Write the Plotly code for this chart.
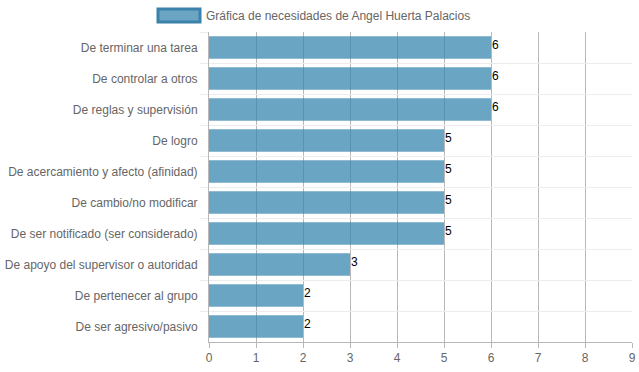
import plotly.graph_objects as go

categories = [
    "De terminar una tarea",
    "De controlar a otros",
    "De reglas y supervisión",
    "De logro",
    "De acercamiento y afecto (afinidad)",
    "De cambio/no modificar",
    "De ser notificado (ser considerado)",
    "De apoyo del supervisor o autoridad",
    "De pertenecer al grupo",
    "De ser agresivo/pasivo",
]
values = [6, 6, 6, 5, 5, 5, 5, 3, 2, 2]
series_name = "Gráfica de necesidades de Angel Huerta Palacios"
x_ticks = [0, 1, 2, 3, 4, 5, 6, 7, 8, 9]

FONT = "Liberation Sans, Arial, Helvetica, sans-serif"
BAR_FILL = "rgba(58,135,176,0.75)"
BAR_LINE = "rgb(58,130,170)"

fig = go.Figure()
fig.add_trace(go.Bar(
    x=values, y=categories, orientation="h", name=series_name,
    marker=dict(color=BAR_FILL, line=dict(width=0)),
    showlegend=False, hoverinfo="x+y", cliponaxis=False,
))

for v, c in zip(values, categories):
    fig.add_annotation(x=v, y=c, text=str(v), showarrow=False,
                       xanchor="left", yanchor="middle", xshift=-1, yshift=3,
                       font=dict(family=FONT, size=12, color="#000"))

# legend drawn manually (wide box like the original)
fig.add_shape(type="rect", xref="paper", yref="paper",
              x0=(158 - 209) / 423, x1=(200 - 209) / 423,
              y0=1 + (32 - 22) / 310, y1=1 + (32 - 9) / 310,
              fillcolor=BAR_FILL, line=dict(color=BAR_LINE, width=3))
fig.add_annotation(xref="paper", yref="paper", x=(204 - 209) / 423, y=1 + (32 - 15.5) / 310,
                   text=series_name, showarrow=False, xanchor="left", yanchor="middle",
                   font=dict(family=FONT, size=12, color="#666"))

fig.update_layout(
    width=639, height=372,
    margin=dict(l=209, r=7, t=32, b=30, autoexpand=False),
    paper_bgcolor="white", plot_bgcolor="white",
    bargap=0.27,
    font=dict(family=FONT, size=12, color="#666"),
    xaxis=dict(range=[0, 9], tickvals=x_ticks, showgrid=True, gridcolor="#b8b8b8",
               gridwidth=1, zeroline=False, showline=True, linecolor="#b8b8b8",
               ticks="outside", ticklen=5, tickcolor="#b8b8b8", automargin=False,
               tickfont=dict(family=FONT, size=12, color="#666"), fixedrange=True),
    yaxis=dict(autorange="reversed", type="category", tickson="boundaries",
               showgrid=True, gridcolor="#ececec", gridwidth=1,
               showline=True, linecolor="#b8b8b8", automargin=False,
               ticks="outside", ticklen=8, tickcolor="#ececec", ticklabelstandoff=8,
               tickfont=dict(family=FONT, size=12, color="#666"), fixedrange=True),
)

fig.write_html(
    "out.html",
    config={"displayModeBar": False},
    post_script="document.body.style.margin='0';document.body.style.overflow='hidden';",
)
